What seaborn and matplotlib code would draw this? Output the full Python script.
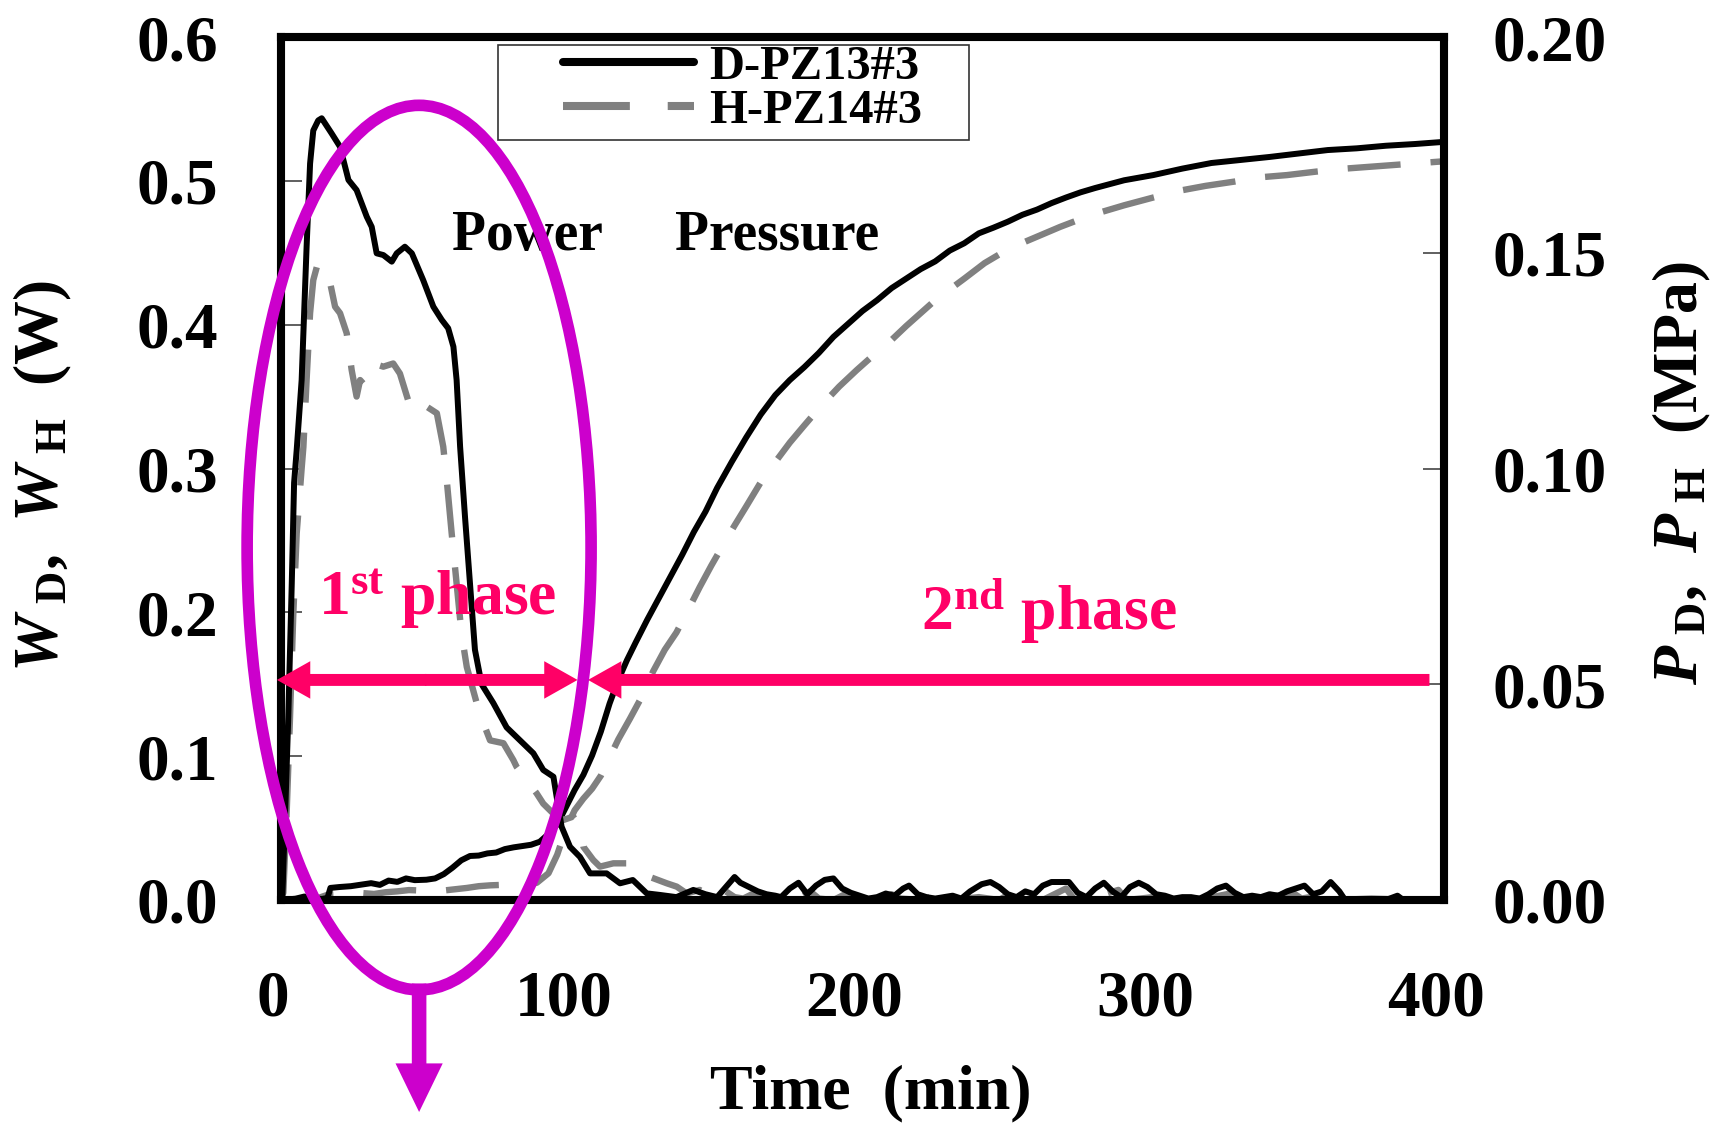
import numpy as np
import pandas as pd
import matplotlib
matplotlib.use("Agg")
import matplotlib.pyplot as plt
import matplotlib.transforms as mtransforms
import seaborn as sns
from matplotlib.patches import Ellipse, FancyArrowPatch, Rectangle

# ---------------- data ----------------
# Power of D-PZ13#3 (W) vs time (min)
t_power_d = [0, 0.5, 1.4, 2.5, 3.7, 4.5, 5.4, 7.1, 8.8, 10.0, 11.1, 12.8, 14.0, 17.4, 20.3,
             23.2, 26.0, 29.5, 31.2, 32.9, 35.2, 38.1, 39.8, 42.6, 45.0, 48.9, 52.4, 55.3,
             57.5, 59.3, 60.4, 61.6, 63.3, 65.0, 66.7, 69.0, 73.0, 77.6, 82.2, 86.8, 90.2,
             93.7, 94.8, 96.5, 99.4, 102.8, 106.3, 112.0, 116.6, 121.0, 125.8, 130.4, 136.0,
             141.8, 146, 150, 153, 156, 158, 161, 164, 167, 170, 172, 175, 178, 181, 184, 187,
             190, 193, 196, 199, 202, 205, 208, 211, 214, 216, 219, 222, 225, 228, 231, 234,
             237, 241, 244, 247, 250, 253, 256, 259, 262, 265, 268, 271, 274, 277, 280, 283,
             286, 289, 292, 295, 298, 301, 304, 307, 310, 313, 316, 319, 322, 325, 328, 331,
             334, 337, 340, 343, 346, 349, 352, 355, 358, 361, 364, 366, 370, 380, 384, 386, 400]
w_d = [0.0, 0.004, 0.058, 0.127, 0.22, 0.29, 0.313, 0.3615, 0.454, 0.512, 0.535, 0.542, 0.5435,
       0.533, 0.5237, 0.5006, 0.4936, 0.475, 0.468, 0.4496, 0.4484, 0.4438, 0.4496, 0.4542,
       0.4496, 0.431, 0.4125, 0.4033, 0.3975, 0.3847, 0.3615, 0.3152, 0.266, 0.22, 0.174, 0.15,
       0.137, 0.12, 0.111, 0.102, 0.0904, 0.0857, 0.0718, 0.051, 0.037, 0.030, 0.0185, 0.0185,
       0.0116, 0.0139, 0.0046, 0.0035, 0.002, 0.007, 0.004, 0.002, 0.009, 0.016, 0.012, 0.009,
       0.006, 0.004, 0.003, 0.002, 0.008, 0.012, 0.004, 0.010, 0.014, 0.015, 0.008, 0.005, 0.003,
       0.001, 0.002, 0.0045, 0.003, 0.008, 0.010, 0.004, 0.002, 0.001, 0.002, 0.003, 0.001, 0.006,
       0.011, 0.0125, 0.009, 0.004, 0.002, 0.006, 0.004, 0.010, 0.0125, 0.0125, 0.0125, 0.005,
       0.002, 0.008, 0.012, 0.006, 0.002, 0.009, 0.012, 0.009, 0.004, 0.003, 0.001, 0.002, 0.002,
       0.001, 0.004, 0.008, 0.010, 0.005, 0.002, 0.003, 0.002, 0.004, 0.003, 0.006, 0.008, 0.010,
       0.004, 0.006, 0.0125, 0.006, 0.0, 0.0, 0.0, 0.003, 0.0, 0.0]

# Power of H-PZ14#3 (W) vs time (min)
t_power_h = [0, 0.8, 1.9, 3.1, 4.2, 5.4, 7.1, 7.7, 8.8, 10.0, 11.1, 12.3, 14.5, 16.9, 18.6,
             20.3, 22.6, 24.3, 26.0, 27.2, 28.3, 31.7, 35.2, 38.6, 40.9, 44.4, 47.8, 50.1, 53.6,
             55.8, 57.0, 58.7, 60.4, 62.1, 63.9, 67.3, 69.6, 71.9, 76.5, 79.9, 81.0, 87.9, 90.2,
             93.7, 97.1, 100.5, 102.8, 104.0, 107.4, 109.7, 114.3, 118.9, 121.2, 124.6, 126.9,
             132.7, 136.1, 139.5, 144, 147, 150, 153, 156, 159, 162, 165, 170, 175, 178, 182, 185,
             190, 195, 198, 205, 210, 213, 220, 228, 231, 240, 247, 252, 255, 262, 270, 273, 280,
             288, 291, 300, 305, 308, 318, 330, 333, 340, 348, 351, 360, 363, 375, 390, 400]
w_h = [0.0, 0.005, 0.058, 0.127, 0.197, 0.255, 0.30, 0.315, 0.3615, 0.408, 0.431, 0.44, 0.442,
       0.429, 0.4125, 0.408, 0.394, 0.3685, 0.35, 0.3615, 0.359, 0.373, 0.3708, 0.373, 0.366,
       0.343, 0.3476, 0.343, 0.3384, 0.3152, 0.292, 0.255, 0.22, 0.185, 0.162, 0.137, 0.123,
       0.111, 0.109, 0.0973, 0.0927, 0.0742, 0.067, 0.060, 0.0556, 0.058, 0.051, 0.037, 0.0278,
       0.0232, 0.0255, 0.0255, 0.0209, 0.0185, 0.016, 0.0116, 0.0093, 0.0046, 0.007, 0.0035,
       0.001, 0.006, 0.002, 0.001, 0.004, 0.001, 0.0, 0.003, 0.001, 0.006, 0.001, 0.0, 0.005,
       0.001, 0.0, 0.004, 0.001, 0.0, 0.005, 0.0, 0.002, 0.0, 0.006, 0.001, 0.0, 0.008, 0.0,
       0.002, 0.007, 0.0, 0.002, 0.005, 0.0, 0.001, 0.006, 0.0, 0.002, 0.005, 0.001, 0.004, 0.0,
       0.001, 0.0, 0.0]

# Pressure of D-PZ13#3 (MPa) vs time (min)
t_press_d = [0, 5, 8, 11, 14, 16, 17, 20, 24, 28, 31, 34, 37, 40, 43, 46, 50, 53, 56, 59, 62,
             65, 68, 71, 74, 77, 80, 83, 86, 89, 92, 95, 98, 101, 104, 107, 110, 113, 116, 119,
             122, 126, 130, 134, 138, 142, 146, 150, 155, 160, 165, 170, 175, 180, 185, 190, 195,
             200, 205, 210, 215, 220, 225, 230, 235, 240, 245, 250, 255, 260, 265, 270, 275, 280,
             290, 300, 310, 320, 330, 340, 350, 360, 370, 380, 390, 400]
p_d = [0.0, 0.0003, 0.0008, 0.0005, 0.0002, 0.0005, 0.0028, 0.003, 0.0032, 0.0036, 0.0039,
       0.0035, 0.0045, 0.0042, 0.005, 0.0046, 0.0047, 0.005, 0.006, 0.0075, 0.0092, 0.0102,
       0.0103, 0.0108, 0.011, 0.0118, 0.0122, 0.0125, 0.0128, 0.0135, 0.0153, 0.0175, 0.0215,
       0.0255, 0.029, 0.0335, 0.039, 0.0455, 0.051, 0.0556, 0.0597, 0.065, 0.070, 0.075, 0.080,
       0.0853, 0.090, 0.0955, 0.1015, 0.1072, 0.1125, 0.117, 0.1205, 0.1235, 0.1268, 0.1305,
       0.1335, 0.1365, 0.139, 0.1418, 0.144, 0.1462, 0.148, 0.1505, 0.1522, 0.1545, 0.1558,
       0.1572, 0.1588, 0.160, 0.1615, 0.1628, 0.164, 0.165, 0.1668, 0.168, 0.1695, 0.1708,
       0.1715, 0.1722, 0.173, 0.1738, 0.1742, 0.1748, 0.1752, 0.1757]

# Pressure of H-PZ14#3 (MPa) vs time (min)
t_press_h = [0, 5, 10, 13, 16, 20, 24, 28, 32, 36, 40, 44, 48, 52, 56, 60, 64, 68, 72, 76, 80,
             84, 88, 92, 95, 98, 101, 104, 107, 110, 113, 116, 120, 124, 128, 132, 136, 140, 144,
             148, 152, 156, 160, 165, 170, 175, 180, 186, 192, 198, 205, 210, 215, 220, 225, 230,
             235, 242, 248, 254, 261, 268, 275, 280, 290, 300, 310, 318, 328, 337, 346, 356, 366,
             376, 388, 400]
p_h = [0.0, 0.0, 0.0002, 0.0005, 0.0012, 0.0013, 0.0015, 0.0016, 0.0014, 0.0018, 0.002, 0.0023,
       0.0022, 0.0024, 0.0022, 0.0025, 0.0028, 0.0032, 0.0034, 0.0035, 0.0036, 0.0035, 0.004,
       0.0062, 0.0105, 0.0165, 0.0208, 0.0235, 0.0258, 0.0288, 0.033, 0.0372, 0.042, 0.047,
       0.053, 0.058, 0.062, 0.0672, 0.0725, 0.0775, 0.0822, 0.0868, 0.0912, 0.0968, 0.1015,
       0.106, 0.110, 0.1147, 0.119, 0.1228, 0.127, 0.1298, 0.133, 0.136, 0.139, 0.1415, 0.144,
       0.1476, 0.150, 0.152, 0.154, 0.156, 0.1578, 0.159, 0.161, 0.1628, 0.1645, 0.1655, 0.1665,
       0.1675, 0.168, 0.1688, 0.1695, 0.170, 0.1706, 0.1712]

series_labels = ["D-PZ13#3", "H-PZ14#3"]
x_ticks = [0, 100, 200, 300, 400]
w_ticks = [0.0, 0.1, 0.2, 0.3, 0.4, 0.5, 0.6]
p_ticks = [0.00, 0.05, 0.10, 0.15, 0.20]

# ---------------- style ----------------
sns.set_style("white")
plt.rcParams.update({
    "font.family": ["Liberation Serif", "DejaVu Serif"],
    "font.weight": "bold",
    "mathtext.fontset": "custom",
    "mathtext.rm": "Liberation Serif:bold",
    "mathtext.it": "Liberation Serif:italic:bold",
    "mathtext.bf": "Liberation Serif:bold",
    "axes.linewidth": 5.8,
    "axes.edgecolor": "black",
    "text.color": "black",
    "axes.labelcolor": "black",
    "xtick.labelcolor": "black",
    "ytick.labelcolor": "black",
})

PINK = "#FF0066"
MAGENTA = "#CC00CC"
GREY = "#808080"

fig = plt.figure(figsize=(17.17, 11.24), dpi=100)
ax = fig.add_axes([0.16366, 0.19929, 0.67734, 0.76779])
ax2 = ax.twinx()
ax.set_zorder(ax2.get_zorder() + 1)
ax.patch.set_visible(False)

dash = (0, (8.3, 4.7))
LW_D = 4.3
LW_H = 4.6

# pressure curves (right axis)
sns.lineplot(x=t_press_h, y=p_h, ax=ax2, color=GREY, linewidth=LW_H, linestyle=dash,
             errorbar=None)
sns.lineplot(x=t_press_d, y=p_d, ax=ax2, color="black", linewidth=LW_D, errorbar=None)

# power curves (left axis)
sns.lineplot(x=t_power_h, y=w_h, ax=ax, color=GREY, linewidth=LW_H, linestyle=dash,
             errorbar=None, label=series_labels[1])
sns.lineplot(x=t_power_d, y=w_d, ax=ax, color="black", linewidth=LW_D, errorbar=None,
             label=series_labels[0])

# ---------------- axes ----------------
ax.set_xlim(0, 400)
ax.set_ylim(0, 0.6)
ax2.set_ylim(0, 0.2)
ax.set_xticks(x_ticks)
ax.set_xticklabels([f"{v:d}" for v in x_ticks])
ax.set_yticks(w_ticks)
ax.set_yticklabels([f"{v:.1f}" for v in w_ticks])
ax2.set_yticks(p_ticks)
ax2.set_yticklabels([f"{v:.2f}" for v in p_ticks])

for a in (ax, ax2):
    for s in a.spines.values():
        s.set_linewidth(5.8)
        s.set_color("black")

ax.tick_params(axis="x", direction="in", length=12, width=1.2, color="#444444",
               labelsize=47, pad=50, top=False, labelcolor="black")
ax.tick_params(axis="y", direction="in", length=15, width=1.2, color="#444444",
               labelsize=47, pad=45, right=False, labelcolor="black")
ax2.tick_params(axis="y", direction="in", length=15, width=1.2, color="#444444",
                labelsize=47, pad=35, labelcolor="black")
shift_left = mtransforms.ScaledTranslation(-8 / 100, 0, fig.dpi_scale_trans)
for lab in ax.get_xticklabels():
    lab.set_fontweight("bold")
    lab.set_transform(lab.get_transform() + shift_left)
for lab in ax.get_yticklabels() + ax2.get_yticklabels():
    lab.set_fontweight("bold")

ax.set_xlabel("Time  (min)", fontsize=46, fontweight="bold", color="black")
ax.xaxis.set_label_coords(0.507, -0.190)

ax.set_ylabel(r"$\mathit{W}_{\ \mathrm{D}}$,  $\mathit{W}_{\ \mathrm{H}}$  (W)",
              fontsize=46, fontweight="bold", va="center", color="black")
ax.yaxis.set_label_coords(-0.205, 0.491)

ax2.set_ylabel(r"$\mathit{P}_{\ \mathrm{D}}$,  $\mathit{P}_{\ \mathrm{H}}$  (MPa)",
               fontsize=46, fontweight="bold", va="center", rotation=90, color="black")
ax2.yaxis.set_label_coords(1.205, 0.495)

# ---------------- legend ----------------
handles, labels = ax.get_legend_handles_labels()
order = [labels.index(s) for s in series_labels]
leg = ax.legend([handles[i] for i in order], [labels[i] for i in order],
                loc="upper left", bbox_to_anchor=(0.2425, 0.9907), frameon=False,
                borderpad=0, borderaxespad=0, handlelength=2.7,
                handletextpad=0.3, labelspacing=0.0, prop={"weight": "bold", "size": 35})
for line in leg.get_lines():
    line.set_linewidth(5.8)
for txt in leg.get_texts():
    txt.set_color("black")
ax.add_patch(Rectangle((0.1866, 0.8806), 0.405, 0.1101, transform=ax.transAxes,
                       fill=False, lw=1.2, ec="#333333", clip_on=False, zorder=5))

# ---------------- annotations ----------------
ax.text(58.8, 0.4617, "Power", fontsize=40, fontweight="bold", va="center", ha="left",
        zorder=6)
ax.text(135.5, 0.4617, "Pressure", fontsize=40, fontweight="bold", va="center", ha="left",
        zorder=6)
ax.text(12.7, 0.198, r"1$^{\mathrm{st}}$ phase", fontsize=46, fontweight="bold",
        color=PINK, va="baseline", ha="left", zorder=6)
ax.text(220, 0.1877, r"2$^{\mathrm{nd}}$ phase", fontsize=46, fontweight="bold",
        color=PINK, va="baseline", ha="left", zorder=6)

arrow_y = 0.153
pink_style = "Simple, head_length=24, head_width=27, tail_width=8.6"
for start, end in [(50, -1.4), (49.5, 102), (395, 105.6)]:
    ax.add_patch(FancyArrowPatch((start, arrow_y), (end, arrow_y), arrowstyle=pink_style,
                                 mutation_scale=1, color=PINK, lw=0, shrinkA=0, shrinkB=0,
                                 clip_on=False, zorder=7))

ax.add_patch(Ellipse((47.5, 0.245), width=118.3, height=0.615, fill=False, lw=8.4,
                     ec=MAGENTA, clip_on=False, zorder=8))
ax.add_patch(FancyArrowPatch((47.5, -0.058), (47.5, -0.1474),
                             arrowstyle="Simple, head_length=35, head_width=34, tail_width=10.5",
                             mutation_scale=1, color=MAGENTA, lw=0, shrinkA=0, shrinkB=0,
                             clip_on=False, zorder=8))

fig.savefig("out.png", dpi=100)
